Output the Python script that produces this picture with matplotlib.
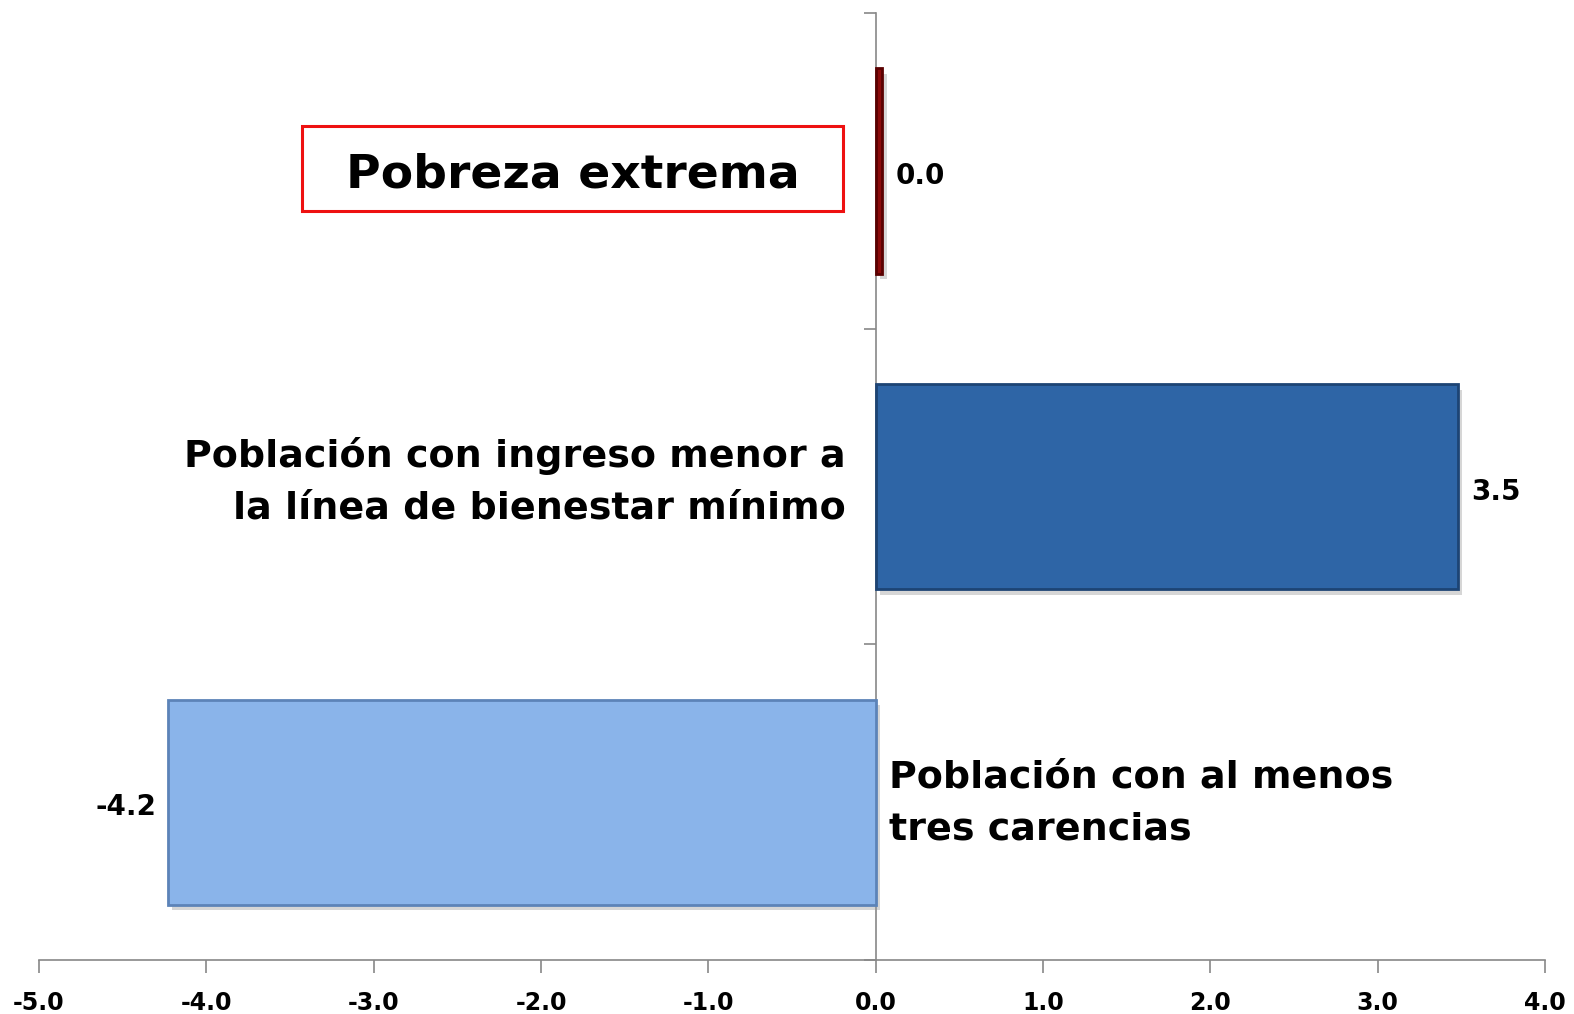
import matplotlib
matplotlib.use("Agg")
import matplotlib.pyplot as plt
import matplotlib.patheffects as pe
from matplotlib.patches import Rectangle

categories = ["Población con al menos\ntres carencias",
              "Población con ingreso menor a\nla línea de bienestar mínimo",
              "Pobreza extrema"]
values = [-4.23, 3.48, 0.04]
labels = ["-4.2", "3.5", "0.0"]
xticks = [-5.0, -4.0, -3.0, -2.0, -1.0, 0.0, 1.0, 2.0, 3.0, 4.0]

face = ["#8AB4EA", "#2E65A6", "#8B0A0A"]
edge = ["#5C83B8", "#1D4474", "#5A0000"]

plt.rcParams['font.family'] = ['DejaVu Sans']
fig = plt.figure(figsize=(15.74, 10.14), dpi=100)
ax = fig.add_axes([0.0248, 0.0533, 0.9568, 0.9337])

ypos = list(range(len(categories)))
bars = ax.barh(ypos, values, height=0.65, color=face, edgecolor=edge, linewidth=2.0, zorder=3)
for b in bars:
    b.set_path_effects([pe.SimplePatchShadow(offset=(3, -4), shadow_rgbFace='#999999', alpha=0.4), pe.Normal()])

ax.set_xlim(-5.0, 4.0)
ax.set_ylim(-0.5, 2.5)
ax.set_xticks(xticks)
ax.set_xticklabels([f"{t:.1f}" for t in xticks], fontsize=17, fontweight='bold')
ax.set_yticks([-0.5, 0.5, 1.5, 2.5])
ax.set_yticklabels([])
ax.spines['left'].set_position(('data', 0))
ax.spines['top'].set_visible(False)
ax.spines['right'].set_visible(False)
for s in ['left', 'bottom']:
    ax.spines[s].set_color('#888888')
    ax.spines[s].set_linewidth(1.2)
ax.tick_params(axis='both', colors='#888888', length=9, width=1.2, direction='out')
ax.tick_params(axis='x', labelcolor='black', pad=13)

# value labels
for y, v, lab in zip(ypos, values, labels):
    if v >= 0:
        ax.text(v + 0.08, y - 0.016, lab, ha='left', va='center', fontsize=20, fontweight='bold')
    else:
        ax.text(v - 0.07, y - 0.016, lab, ha='right', va='center', fontsize=20, fontweight='bold')

# category labels
ax.text(0.08, -0.005, categories[0], ha='left', va='center', fontsize=27.4, fontweight='bold',
        linespacing=1.57)
ax.text(-0.18, 1.015, categories[1], ha='right', va='center', fontsize=27.4, fontweight='bold',
        linespacing=1.57, multialignment='right')
ax.text(-1.81, 1.987, categories[2], ha='center', va='center', fontsize=34, fontweight='bold')
ax.add_patch(Rectangle((-3.428, 1.873), 3.233, 0.269, facecolor='none', edgecolor='#EE1111',
                       linewidth=2.2, zorder=4))

fig.savefig("out.png", dpi=100)
